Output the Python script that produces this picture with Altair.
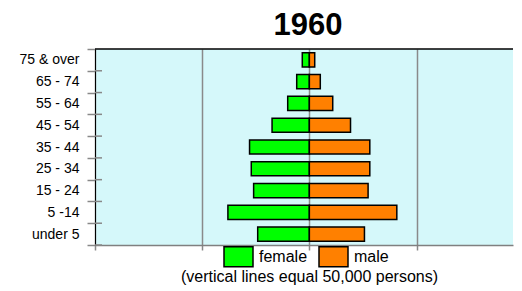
import altair as alt
import pandas as pd

ages = ["75 & over", "65 - 74", "55 - 64", "45 - 54", "35 - 44",
        "25 - 34", "15 - 24", "5 -14", "under 5"]
female = [3300, 5900, 10100, 17400, 27900, 27100, 26000, 38000, 24100]
male = [2500, 5100, 10900, 19200, 28200, 28200, 27400, 40800, 25700]
sexes = ["female", "male"]
colors = ["#00ff00", "#ff8000"]
grid_values = [-100000, -50000, 0, 50000]

rows = []
for a, f, m in zip(ages, female, male):
    rows.append({"age": a, "sex": "female", "value": -f})
    rows.append({"age": a, "sex": "male", "value": m})
df = pd.DataFrame(rows)
df_ages = pd.DataFrame({"age": ages})

W, H = 418, 196
FONT = "Liberation Sans"

yenc = alt.Y("age:N", sort=ages, title=None,
             scale=alt.Scale(paddingInner=0, paddingOuter=0),
             axis=alt.Axis(tickBand="extent", tickSize=8, tickColor="#888888",
                           tickWidth=1.5, domainColor="black", domainWidth=1,
                           labelFont=FONT, labelFontSize=14, labelColor="black",
                           labelPadding=8))

xscale = alt.Scale(domain=[-100000, 95000], nice=False, zero=False)

bars = alt.Chart(df).mark_bar(height={"band": 0.65}, stroke="black",
                              strokeWidth=1.5).encode(
    x=alt.X("value:Q", scale=xscale,
            title="(vertical lines equal 50,000 persons)",
            axis=alt.Axis(values=grid_values, labels=False, tickSize=5,
                          tickColor="#888888", tickWidth=1.5,
                          domainColor="#808080", domainWidth=1.5,
                          grid=True, gridColor="#8a8a8a", gridWidth=1.5,
                          titleFont=FONT, titleFontSize=16,
                          titleFontWeight="normal", titleColor="black",
                          titleAlign="center", titleX=W / 2 + 5,
                          titlePadding=18)),
    y=yenc,
    color=alt.Color("sex:N", scale=alt.Scale(domain=sexes, range=colors),
                    legend=alt.Legend(
                        title=None, orient="none", legendX=128, legendY=192,
                        direction="horizontal",
                        symbolType="M-1,-0.69L1,-0.69L1,0.69L-1,0.69Z",
                        symbolSize=841, symbolStrokeColor="black",
                        symbolStrokeWidth=1.5, symbolOpacity=1,
                        labelFont=FONT, labelFontSize=16, labelColor="black",
                        labelOffset=5, columnPadding=8, padding=0)),
)

inner_ticks = alt.Chart(df_ages).mark_rule(color="#888888", strokeWidth=1.5).encode(
    y=alt.Y("age:N", sort=ages, bandPosition=1),
    x=alt.value(0), x2=alt.value(7),
)

top_line = alt.Chart(df_ages.head(1)).mark_rule(color="black", strokeWidth=1.5).encode(
    y=alt.value(0), x=alt.value(0), x2=alt.value(W),
)

chart = alt.layer(bars, inner_ticks, top_line).properties(
    width=W, height=H,
    background="white",
    title=alt.TitleParams("1960", font=FONT, fontSize=31, fontWeight="bold",
                          anchor="middle", color="black", offset=0, dx=4),
    padding={"left": 11, "top": 2, "right": 0, "bottom": 0},
).configure_view(fill="#d5f8fa", stroke=None)

chart.save("out.html", embed_options={"renderer": "svg", "actions": False})
